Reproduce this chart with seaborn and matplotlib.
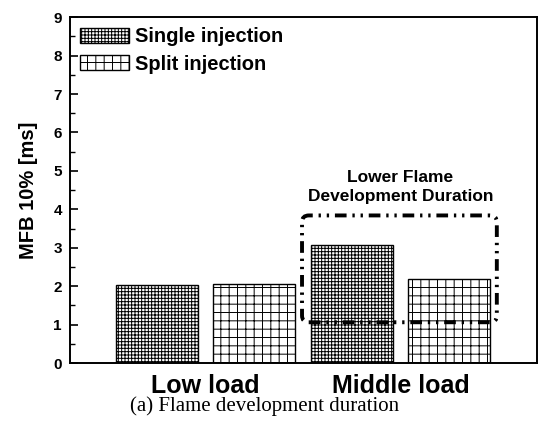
import matplotlib
matplotlib.use('Agg')
import pandas as pd
import matplotlib.pyplot as plt
import seaborn as sns
from matplotlib.patches import FancyBboxPatch

loads = ['Low load', 'Middle load']
injections = ['Single injection', 'Split injection']
single_mfb10 = [2.03, 3.06]
split_mfb10 = [2.06, 2.18]

df = pd.DataFrame({
    'load': loads * 2,
    'injection': [injections[0]] * 2 + [injections[1]] * 2,
    'mfb10': single_mfb10 + split_mfb10,
})

sns.set_style('ticks', {'text.color': 'black', 'axes.labelcolor': 'black',
                        'xtick.color': 'black', 'ytick.color': 'black',
                        'axes.edgecolor': 'black'})
plt.rcParams['font.family'] = ['Liberation Sans', 'DejaVu Sans']
plt.rcParams['hatch.linewidth'] = 0.7

fig = plt.figure(figsize=(5.4, 4.4), dpi=100)
ax = fig.add_axes([0.13, 0.175, 0.864, 0.786])

sns.barplot(data=df, x='load', y='mfb10', hue='injection', hue_order=injections,
            palette=['white', 'white'], edgecolor='black', linewidth=1.0,
            width=1.0, gap=0.155, legend=False, ax=ax)

hatches = ['+++++', '++']
for cont, h in zip(ax.containers, hatches):
    for p in cont:
        p.set_hatch(h)

ax.set_xlim(-0.695, 1.70)
ax.set_ylim(0, 9)
ax.set_yticks(range(0, 10))
ax.set_yticks([i + 0.5 for i in range(9)], minor=True)
ax.tick_params(axis='y', direction='in', length=6, width=1.2, labelsize=11, pad=6)
ax.tick_params(axis='y', which='minor', direction='in', length=3.5, width=1)
ax.tick_params(axis='x', length=0, labelsize=18, pad=8)
for lab in ax.get_xticklabels() + ax.get_yticklabels():
    lab.set_fontweight('bold')
ax.set_xlabel('')
ax.set_ylabel('MFB 10% [ms]', fontsize=14.5, fontweight='bold', labelpad=11)
for s in ax.spines.values():
    s.set_linewidth(1.4)

ax.legend(handles=list(ax.containers), labels=injections, loc='upper left',
          frameon=False, prop={'weight': 'bold', 'size': 14.5},
          handlelength=2.4, handleheight=0.8, handletextpad=0.3,
          labelspacing=0.42, borderaxespad=0.2, borderpad=0.3)

# dash-dot box around the middle-load bars
box = FancyBboxPatch((0.495, 1.06), 1.0, 2.78,
                     boxstyle='round,pad=0,rounding_size=0.035',
                     mutation_aspect=5.0, fill=False, edgecolor='black',
                     linewidth=2.8, linestyle=(0, (3, 1.5, 0.6, 1.5, 0.6, 1.5)))
ax.add_patch(box)
ax.text(1.0, 4.57, 'Lower Flame\nDevelopment Duration', ha='center', va='center',
        fontsize=12.5, fontweight='bold', linespacing=1.35)

fig.text(0.49, 0.077, '(a) Flame development duration', ha='center', va='center',
         fontsize=15, family=['Liberation Serif', 'DejaVu Serif'])

fig.savefig('out.png', dpi=100)
